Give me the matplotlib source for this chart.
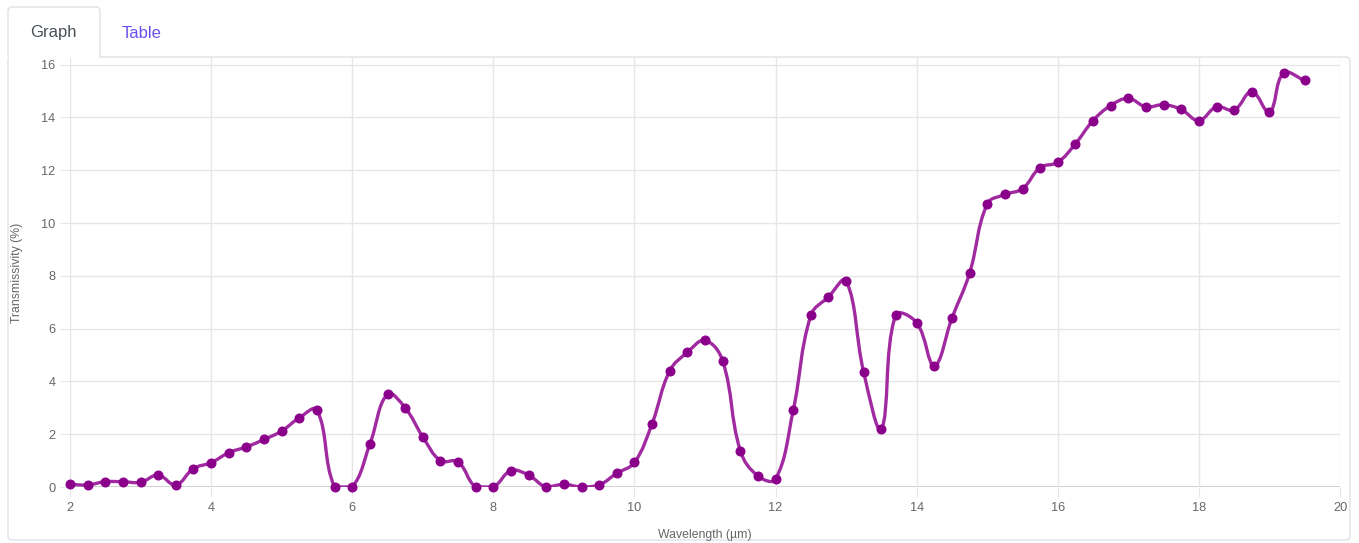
import numpy as np
import matplotlib
matplotlib.use("Agg")
import matplotlib.pyplot as plt
from matplotlib.path import Path
from matplotlib.patches import PathPatch, FancyBboxPatch, Rectangle
from matplotlib.transforms import IdentityTransform

plt.rcParams["font.family"] = ["Liberation Sans", "DejaVu Sans"]

# transmissivity spectrum
wavelength = [2.0, 2.25, 2.5, 2.75, 3.0, 3.25, 3.5, 3.75, 4.0, 4.25, 4.5, 4.75,
              5.0, 5.25, 5.5, 5.75, 6.0, 6.25, 6.5, 6.75, 7.0, 7.25, 7.5, 7.75,
              8.0, 8.25, 8.5, 8.75, 9.0, 9.25, 9.5, 9.75, 10.0, 10.25, 10.5, 10.75,
              11.0, 11.25, 11.5, 11.75, 12.0, 12.25, 12.5, 12.75, 13.0, 13.25, 13.5, 13.7,
              14.0, 14.25, 14.5, 14.75, 15.0, 15.25, 15.5, 15.75, 16.0, 16.25, 16.5, 16.75,
              17.0, 17.25, 17.5, 17.75, 18.0, 18.25, 18.5, 18.75, 19.0, 19.2, 19.5]
transmissivity = [0.1, 0.08, 0.2, 0.2, 0.18, 0.45, 0.08, 0.7, 0.92, 1.3, 1.52, 1.8,
                  2.12, 2.62, 2.92, 0.0, 0.0, 1.62, 3.52, 3.0, 1.9, 1.0, 0.95, 0.0,
                  0.0, 0.62, 0.45, 0.0, 0.1, 0.0, 0.08, 0.52, 0.93, 2.4, 4.4, 5.1,
                  5.55, 4.78, 1.38, 0.42, 0.3, 2.9, 6.5, 7.2, 7.82, 4.34, 2.2, 6.5,
                  6.22, 4.6, 6.4, 8.1, 10.72, 11.08, 11.3, 12.1, 12.3, 13.0, 13.88, 14.45,
                  14.72, 14.4, 14.48, 14.3, 13.88, 14.4, 14.28, 14.98, 14.2, 15.68, 15.4]

x_ticks = [2, 4, 6, 8, 10, 12, 14, 16, 18, 20]
y_ticks = [0, 2, 4, 6, 8, 10, 12, 14, 16]

W, H = 1359, 543
fig = plt.figure(figsize=(W / 100, H / 100), dpi=100)


def px(x, y):
    """ Top-left pixel coords to display coords. """
    return x, H - y


# panel and tabs
border = "#dee2e6"
fig.add_artist(FancyBboxPatch(px(8, 540), 1342, 483, boxstyle="round,pad=0,rounding_size=4",
                              transform=IdentityTransform(), facecolor="white",
                              edgecolor=border, lw=1, zorder=-5))
# hide the panel's top edge under the active tab
fig.add_artist(Rectangle(px(8.6, 59), 90.8, 4, transform=IdentityTransform(),
                         facecolor="white", edgecolor="none", zorder=-4))
r = 4
tab_outline = Path([px(8, 57), px(8, 7 + r), px(8, 7), px(8 + r, 7), px(100 - r, 7),
                    px(100, 7), px(100, 7 + r), px(100, 57)],
                   [Path.MOVETO, Path.LINETO, Path.CURVE3, Path.CURVE3, Path.LINETO,
                    Path.CURVE3, Path.CURVE3, Path.LINETO])
fig.add_artist(PathPatch(tab_outline, transform=IdentityTransform(), facecolor="none",
                         edgecolor=border, lw=1, zorder=-3))
fig.text(53 / W, 1 - 33 / H, "Graph", color="#495057", fontsize=12, ha="center", va="center")
fig.text(142 / W, 1 - 33 / H, "Table", color="#6a4ff0", fontsize=12, ha="center", va="center")

# chart area
ax = fig.add_axes([70 / W, 56 / H, 1270 / W, 429 / H])
ax.patch.set_alpha(0)
ax.set_xlim(2, 20)
ax.set_ylim(0, 16.25)
ax.set_xticks(x_ticks)
ax.set_yticks(y_ticks)
for s in ax.spines.values():
    s.set_visible(False)
ax.grid(True, color="#e6e6e6", lw=1)
ax.axhline(0, color="#c4c4c4", lw=1.2, zorder=1)
ax.tick_params(length=7.5, width=0.8, color="#e6e6e6", labelcolor="#666666",
               labelsize=9.2, pad=3)
ax.set_xlabel("Wavelength (µm)", color="#666666", fontsize=8.8, labelpad=11)
ax.set_ylabel("Transmissivity (%)", color="#666666", fontsize=8.8, labelpad=13)


def spline_path(xs, ys, tension=0.4):
    """ Bezier curve through the points, control points kept inside the chart area. """
    pts = ax.transData.transform(np.column_stack([xs, ys]))
    x0, y0 = ax.transData.transform((2, 0))
    x1, y1 = ax.transData.transform((20, 16.25))
    n = len(pts)
    c_prev = np.zeros_like(pts)
    c_next = np.zeros_like(pts)
    for i in range(n):
        p = pts[max(i - 1, 0)]
        c = pts[i]
        q = pts[min(i + 1, n - 1)]
        d01 = np.hypot(*(c - p))
        d12 = np.hypot(*(q - c))
        tot = d01 + d12
        s01 = d01 / tot if tot else 0
        s12 = d12 / tot if tot else 0
        c_prev[i] = c - tension * s01 * (q - p)
        c_next[i] = c + tension * s12 * (q - p)
    for arr in (c_prev, c_next):
        arr[:, 0] = np.clip(arr[:, 0], x0, x1)
        arr[:, 1] = np.clip(arr[:, 1], y0, y1)
    verts = [pts[0]]
    codes = [Path.MOVETO]
    for i in range(n - 1):
        verts += [c_next[i], c_prev[i + 1], pts[i + 1]]
        codes += [Path.CURVE4] * 3
    inv = ax.transData.inverted()
    return Path(inv.transform(np.array(verts)), codes)


curve = spline_path(wavelength, transmissivity)
ax.add_patch(PathPatch(curve, facecolor="none", edgecolor="#a12aa1", lw=2.4,
                       capstyle="round", joinstyle="round", zorder=3))
ax.plot(wavelength, transmissivity, "o", color="#8b008b", ms=6.2, mec="#8b008b",
        zorder=4, clip_on=False)

fig.savefig("out.png", dpi=100)
